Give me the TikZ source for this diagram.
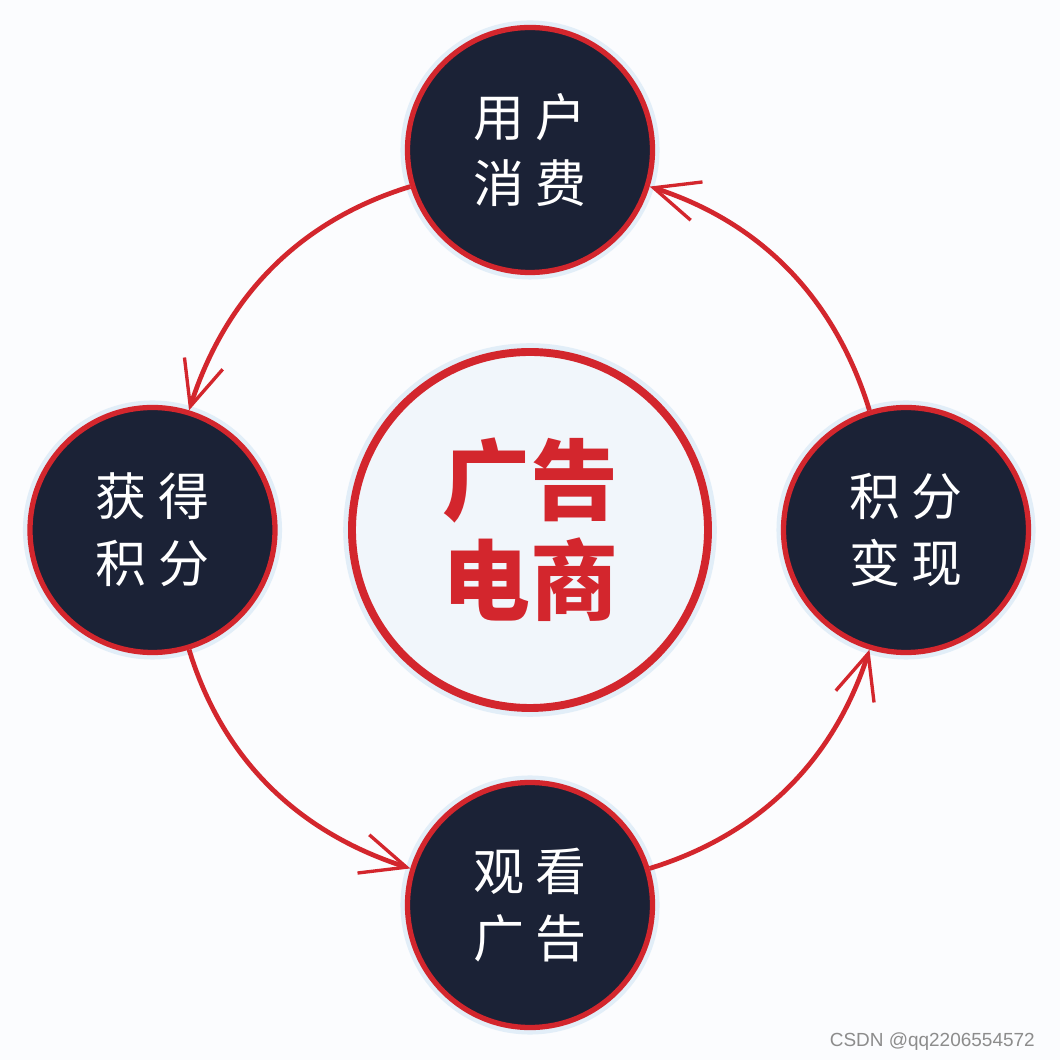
\documentclass[tikz,border=0pt]{standalone}
\usepackage{fontspec}
\setsansfont{Liberation Sans}
\newfontfamily\cjk{Noto Sans CJK SC}
\usetikzlibrary{arrows.meta, bending}
\definecolor{cred}{HTML}{D3262D}
\definecolor{cnavy}{HTML}{1B2236}
\definecolor{chub}{HTML}{F1F6FB}
\definecolor{cglow}{HTML}{E2EEF8}
\definecolor{cback}{HTML}{FBFCFE}
\definecolor{cgrey}{HTML}{8C8C8C}
\newcommand{\pair}[2]{#1\hspace{0.22em}#2}% two characters, spaced
\tikzset{
  every picture/.style={line width=2.7pt},
  stage/.style={circle, draw=cred, fill=cnavy, line width=3pt, minimum size=4.9cm, inner sep=0pt,
    align=center, text=white, font=\cjk\fontsize{29}{38}\selectfont,
    preaction={draw=cglow, line width=8pt}},
  hub/.style={circle, draw=cred, fill=chub, line width=4.5pt, minimum size=7.12cm, inner sep=0pt,
    align=center, text=cred, font=\cjk\bfseries\fontsize{50}{57}\selectfont,
    preaction={draw=cglow, line width=10pt}},
  flow/.style={draw=cred, looseness=0.95, -{Straight Barb[length=9mm, width=8mm, line width=1.9pt]}},
  credit/.style={font=\sffamily\fontsize{10.8}{12}\selectfont, text=cgrey, anchor=east},
}

\begin{document}
\begin{tikzpicture}
  \fill[cback] (-10.6,-10.6) rectangle (10.6,10.6);
  \useasboundingbox (-10.6,-10.6) rectangle (10.6,10.6);
  % centre
  \node[hub] (hub) at (0,0) {广告\\电商};
  % the four stages round the ring
  \node[stage] (spend) at (0,7.6) {\pair{用}{户}\\\pair{消}{费}};
  \node[stage] (earn) at (-7.55,0) {\pair{获}{得}\\\pair{积}{分}};
  \node[stage] (watch) at (0,-7.5) {\pair{观}{看}\\\pair{广}{告}};
  \node[stage] (cash) at (7.52,0) {\pair{积}{分}\\\pair{变}{现}};
  % cycle, counter-clockwise
  \draw[flow] (spend) to[out=197, in=73] (earn);
  \draw[flow] (earn) to[out=287, in=163] (watch);
  \draw[flow] (watch) to[out=17, in=253] (cash);
  \draw[flow] (cash) to[out=107, in=343] (spend);
  \node[credit] (wm) at (10.26,-10.24) {CSDN @qq2206554572};
\end{tikzpicture}
\end{document}
